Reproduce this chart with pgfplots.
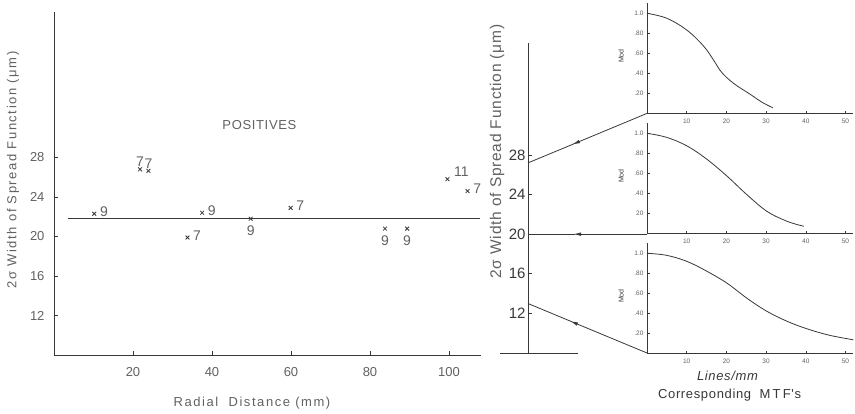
\documentclass[border=0pt]{standalone}
\usepackage{fontspec}
\setmainfont{Liberation Sans}
\newfontfamily\spc[LetterSpace=12]{Liberation Sans}
\newfontfamily\spcb[LetterSpace=5]{Liberation Sans}
\usepackage{pgfplots}
\pgfplotsset{compat=1.18}
\usetikzlibrary{arrows.meta}
\definecolor{ink}{gray}{0.22}
\definecolor{txt}{gray}{0.38}
\pgfplotsset{
  mtf/.style={scale only axis, width=206.4pt, height=110pt,
    xmin=0, xmax=52, ymin=0, ymax=1.1,
    axis lines=left, axis line style={ink,-,line width=0.8pt},
    xtick={10,20,30,40,50}, ytick={0.2,0.4,0.6,0.8,1.0},
    tick align=inside, major tick length=2.5pt, tick style={ink,line width=0.5pt},
    /pgf/number format/assume math mode=true,
    ticklabel style={font=\fontsize{6.5}{6.5}\selectfont, text=txt},
    xticklabel style={yshift=-2pt},
    ylabel={Mod},
    ylabel style={font=\fontsize{7}{7}\selectfont, text=ink, at={(axis description cs:-0.125,0.52)}, anchor=center},
    clip=false},
  mtfline/.style={ink, line width=0.8pt, smooth, tension=0.6, no marks},
  ptm/.style={only marks, mark=x, mark size=2.7pt, ink, mark options={line width=0.8pt},
    nodes near coords, point meta=explicit symbolic}
}
\begin{document}
\begin{tikzpicture}
% ---------------- left scatter ----------------
\begin{axis}[
  at={(54pt,59pt)}, anchor=south west, scale only axis,
  width=426.6pt, height=342.7pt,
  xmin=0, xmax=108, ymin=8, ymax=42.7,
  axis lines=left, axis line style={ink,-,line width=0.8pt},
  xtick={20,40,60,80,100}, ytick={12,16,20,24,28},
  tick align=inside, major tick length=4pt, tick style={ink,line width=0.6pt},
  /pgf/number format/assume math mode=true,
  ticklabel style={font=\fontsize{13}{13}\selectfont, text=txt},
  xticklabel style={yshift=-9pt},
  yticklabel style={xshift=-6pt},
  xlabel={Radial\ \ Distance (mm)},
  xlabel style={font=\fontsize{13}{13}\selectfont\spc, text=txt, at={(axis description cs:0.464,-0.14)}, anchor=center},
  ylabel={2σ Width of Spread Function (μm)},
  ylabel style={font=\fontsize{13}{13}\selectfont\spc, text=txt, at={(axis description cs:-0.096,0.54)}, anchor=center},
  clip=false
]
\addplot[ink, line width=0.8pt, no marks] coordinates {(3.5,21.8) (107.8,21.8)};
% labels to the right
\addplot[ptm,
  every node near coord/.style={anchor=west, xshift=2pt, yshift=2pt, font=\fontsize{14}{14}\selectfont, text=txt}]
  table[meta=l] {
x y l
10.2 22.3 9
33.8 19.9 7
37.5 22.4 9
59.9 22.9 7
104.7 24.6 7
};
% labels above
\addplot[ptm,
  every node near coord/.style={anchor=south, yshift=-1pt, font=\fontsize{14}{14}\selectfont, text=txt}]
  table[meta=l] {
x y l
21.8 26.8 7
23.9 26.65 7
};
% labels below
\addplot[ptm,
  every node near coord/.style={anchor=north, yshift=-3pt, font=\fontsize{14}{14}\selectfont, text=txt}]
  table[meta=l] {
x y l
49.8 21.8 9
83.8 20.8 9
89.4 20.8 9
};
% label upper right
\addplot[ptm,
  every node near coord/.style={anchor=south west, xshift=3pt, yshift=-1pt, font=\fontsize{14}{14}\selectfont, text=txt}]
  table[meta=l] {
x y l
99.6 25.8 11
};
\node[font=\fontsize{13}{13}\selectfont\spcb, text=txt] at (axis cs:52,31.3) {POSITIVES};
\end{axis}
% ---------------- middle axis ----------------
\begin{axis}[
  at={(528pt,61pt)}, anchor=south west, scale only axis,
  width=119pt, height=309.9pt,
  xmin=0, xmax=119, ymin=8, ymax=39.3,
  axis x line=none, axis y line=left, axis line style={ink,-,line width=0.8pt},
  ytick={12,16,20,24,28},
  tick align=inside, major tick length=4pt, tick style={ink,line width=0.6pt},
  /pgf/number format/assume math mode=true,
  yticklabel style={font=\fontsize{15}{15}\selectfont, text=ink, xshift=1pt},
  ylabel={2σ Width of Spread Function (μm)},
  ylabel style={font=\fontsize{15.5}{15.5}\selectfont\spcb, text=txt, at={(axis description cs:-0.26,0.65)}, anchor=center},
  clip=false
]
\addplot[ink, line width=0.8pt, no marks] coordinates {(-28,8) (50,8)};
\addplot[ink, line width=0.8pt, no marks, -{Latex[length=8pt,width=3.5pt]}] coordinates {(119,32.2) (44,29.05)};
\addplot[ink, line width=0.8pt, no marks] coordinates {(46,29.13) (0,27.2)};
\addplot[ink, line width=0.8pt, no marks, -{Latex[length=8pt,width=3.5pt]}] coordinates {(119,20) (45,20)};
\addplot[ink, line width=0.8pt, no marks] coordinates {(47,20) (0,20)};
\addplot[ink, line width=0.8pt, no marks, -{Latex[length=8pt,width=3.5pt]}] coordinates {(119,8) (42,11.23)};
\addplot[ink, line width=0.8pt, no marks] coordinates {(44,11.15) (0,13.0)};
\end{axis}
% ---------------- MTF top ----------------
\begin{axis}[mtf, at={(647pt,300.7pt)}, anchor=south west,
  yticklabels={.20,.40,.60,.80,1.0}]
\addplot[mtfline] coordinates {(0,1.0) (5,0.95) (10.1,0.83) (14.3,0.67) (16.8,0.53) (18.8,0.41) (21.8,0.30) (26,0.19) (29,0.11) (31.7,0.055)};
\end{axis}
% ---------------- MTF middle ----------------
\begin{axis}[mtf, at={(647pt,180.7pt)}, anchor=south west,
  yticklabels={20,.40,.60,.80,1.0}]
\addplot[mtfline] coordinates {(0,1.0) (4.9,0.96) (10,0.875) (15.1,0.74) (20.2,0.57) (25.2,0.385) (30.2,0.22) (35.3,0.12) (39.5,0.07)};
\end{axis}
% ---------------- MTF bottom ----------------
\begin{axis}[mtf, at={(647pt,60.7pt)}, anchor=south west,
  yticklabels={.20,.40,.60,.80,1.0}]
\addplot[mtfline] coordinates {(0,1.0) (4.9,0.98) (10,0.92) (15.1,0.82) (20.2,0.70) (25.2,0.55) (30.2,0.42) (35.3,0.32) (40.3,0.245) (46,0.18) (52,0.135)};
\node[font=\fontsize{13}{13}\selectfont\spcb\itshape, text=ink] at (axis description cs:0.39,-0.205) {Lines/mm};
\node[font=\fontsize{13}{13}\selectfont\spcb, text=ink] at (axis description cs:0.40,-0.38) {Corresponding\ \ M\,T\,F's};
\end{axis}
\pgfresetboundingbox
\path[use as bounding box] (0pt,0pt) rectangle (855pt,414pt);
\end{tikzpicture}
\end{document}
